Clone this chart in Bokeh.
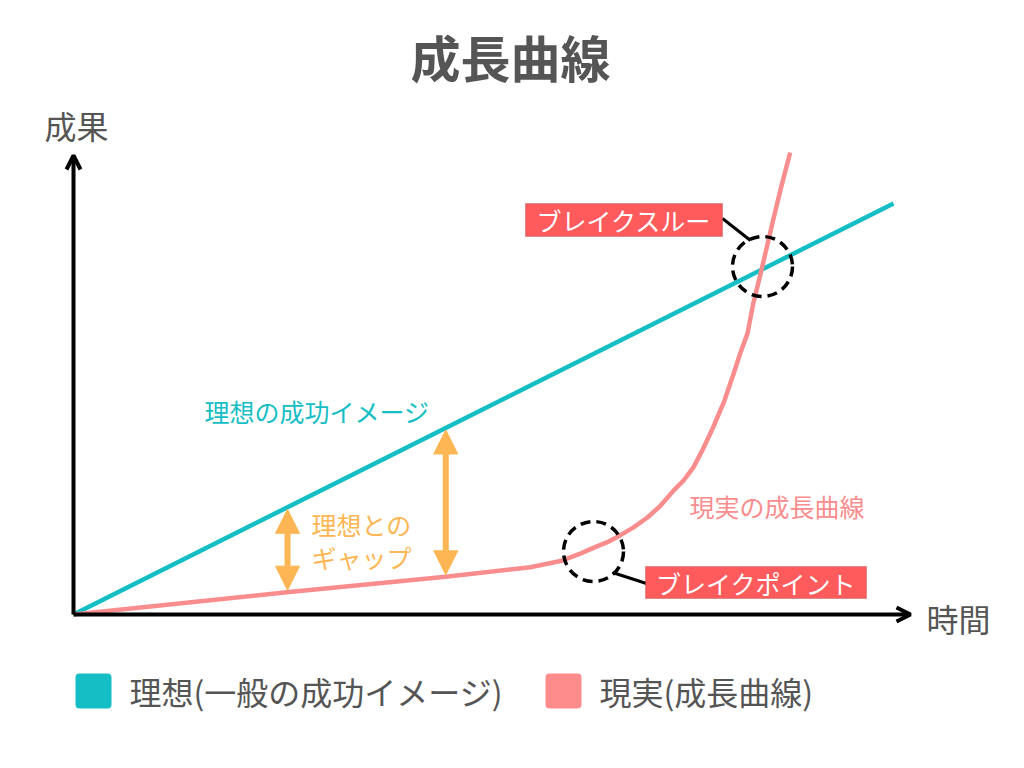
from bokeh.plotting import figure
from bokeh.models import Range1d, Label, Arrow, OpenHead, NormalHead, BoxAnnotation
from bokeh.embed import file_html
from bokeh.resources import INLINE
import numpy as np

# ---------------- data ----------------
title_text = "成長曲線"
y_axis_label = "成果"
x_axis_label = "時間"
series_names = ["理想(一般の成功イメージ)", "現実(成長曲線)"]

ideal_x = [0.0, 10.0]
ideal_y = [0.0, 10.0]

real_x = [0.0, 2.60, 4.51, 5.57, 5.94, 6.18, 6.34, 6.51, 6.67, 6.83, 7.00, 7.16, 7.32, 7.44, 7.56,
          7.68, 7.80, 7.93, 8.05, 8.13, 8.22, 8.29, 8.38, 8.46, 8.54, 8.62, 8.74]
real_y = [0.0, 0.54, 0.91, 1.15, 1.30, 1.48, 1.62, 1.76, 1.93, 2.12, 2.36, 2.65, 3.02, 3.26, 3.58,
          4.04, 4.55, 5.16, 5.86, 6.35, 6.84, 7.57, 8.30, 8.98, 9.66, 10.32, 11.24]

gap_x = [2.61, 4.54]
ideal_label = "理想の成功イメージ"
real_label = "現実の成長曲線"
gap_label = ["理想との", "ギャップ"]
breakthrough_label = "ブレイクスルー"
breakpoint_label = "ブレイクポイント"

# ---------------- styles ----------------
TEAL = "#14BEC4"
PINK = "#F98D8D"
PINK_LEG = "#FF8C8C"
ORANGE = "#FDB653"
RED = "#FF5A5C"
GREY = "#555555"
FONT = "Noto Sans CJK JP"

W, H = 1008, 752
SX, SY = 82.0, 41.1          # pixels per data unit
OX, OY = 73.0, 614.0         # origin in picture pixels


def P(xr, yr):
    """picture pixel -> data coordinate (for annotation placement)"""
    return ((xr - OX) / SX, (OY - yr) / SY)


x0, y1 = P(0, 0)
x1, y0 = P(W, H)

p = figure(width=W, height=H, x_range=Range1d(x0, x1), y_range=Range1d(y0, y1),
           x_axis_type=None, y_axis_type=None, toolbar_location=None,
           output_backend="svg", min_border=0, outline_line_color=None)
p.grid.visible = False
p.background_fill_color = "white"
p.border_fill_color = "white"

# axes with arrows
ax_end_x = P(910, 614)[0]
ax_end_y = P(73, 155)[1]
p.add_layout(Arrow(end=OpenHead(size=14, line_width=4, line_color="black"),
                   x_start=0, y_start=0, x_end=ax_end_x, y_end=0,
                   line_width=4, line_color="black"))
p.add_layout(Arrow(end=OpenHead(size=14, line_width=4, line_color="black"),
                   x_start=0, y_start=0, x_end=0, y_end=ax_end_y,
                   line_width=4, line_color="black"))

# series
p.line(ideal_x, ideal_y, line_color=TEAL, line_width=4.5)
p.line(real_x, real_y, line_color=PINK, line_width=4.5, line_join="round")

# gap arrows
for gx in gap_x:
    top = np.interp(gx, ideal_x, ideal_y) - 0.05
    bot = np.interp(gx, real_x, real_y) + 0.05
    p.add_layout(Arrow(start=NormalHead(size=24, fill_color=ORANGE, line_color=ORANGE),
                       end=NormalHead(size=24, fill_color=ORANGE, line_color=ORANGE),
                       x_start=gx, y_start=bot, x_end=gx, y_end=top,
                       line_width=6, line_color=ORANGE))

# dashed circles
cx, cy = zip(P(762, 266), P(593, 551))
p.scatter(list(cx), list(cy), marker="circle", size=60, fill_color=None,
          line_color="black", line_width=3.5, line_dash="10 6")

# connectors
a = P(722, 218); b = P(750, 240)
p.line([a[0], b[0]], [a[1], b[1]], line_color="black", line_width=3)
a = P(612, 572); b = P(646, 583)
p.line([a[0], b[0]], [a[1], b[1]], line_color="black", line_width=3)

# red label boxes
def red_box(l, t, r, b, text):
    L, T = P(l, t); R, B = P(r, b)
    p.add_layout(BoxAnnotation(left=L, right=R, top=T, bottom=B, fill_color=RED,
                               fill_alpha=1, line_color="#8A3535", line_width=1))
    cxx, cyy = P((l + r) / 2, (t + b) / 2)
    p.add_layout(Label(x=cxx, y=cyy, text=text, text_align="center", text_baseline="middle",
                       text_color="white", text_font=FONT, text_font_size="25px"))

red_box(525, 203, 722, 236, breakthrough_label)
red_box(645, 566, 866, 598, breakpoint_label)


def lab(xr, yr, text, color, size, align="left", style="normal"):
    x, y = P(xr, yr)
    p.add_layout(Label(x=x, y=y, text=text, text_align=align, text_baseline="middle",
                       text_color=color, text_font=FONT, text_font_size=size,
                       text_font_style=style))

lab(510, 55, title_text, GREY, "50px", align="center", style="bold")
lab(44, 124, y_axis_label, GREY, "32px")
lab(926, 617, x_axis_label, GREY, "32px")
lab(204, 410, ideal_label, TEAL, "25px")
lab(689, 505, real_label, PINK, "25px")
lab(311, 523, gap_label[0], ORANGE, "25px")
lab(311, 556, gap_label[1], ORANGE, "25px")

# legend
def leg_box(l, t, r, b, color):
    L, T = P(l, t); R, B = P(r, b)
    p.add_layout(BoxAnnotation(left=L, right=R, top=T, bottom=B, fill_color=color,
                               fill_alpha=1, line_color=None, border_radius=4))

leg_box(75, 673, 111, 708, TEAL)
lab(129, 690, series_names[0], GREY, "32px")
leg_box(545, 673, 581, 708, PINK_LEG)
lab(599, 690, series_names[1], GREY, "32px")

open("out.html", "w").write(file_html(p, INLINE))
